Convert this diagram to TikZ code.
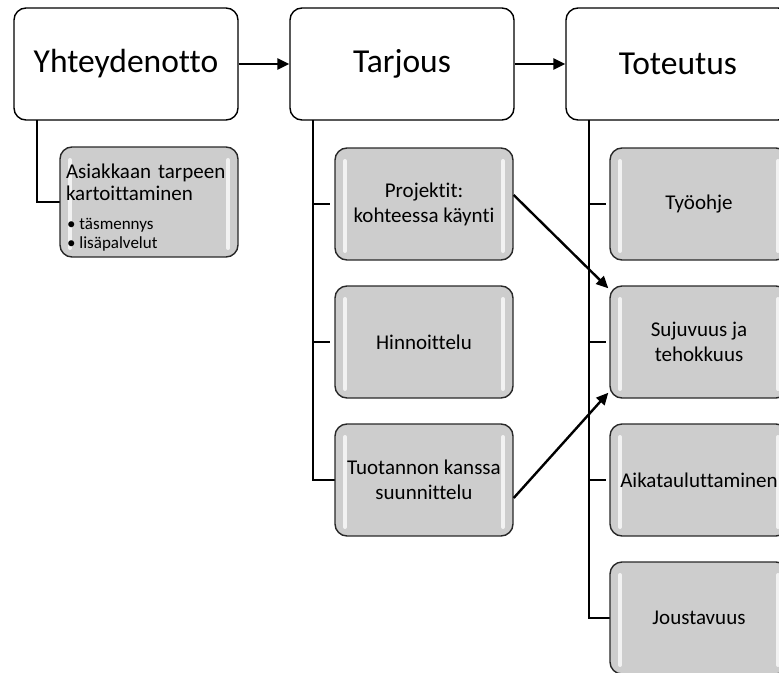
\documentclass[tikz,border=0pt]{standalone}
\usepackage{fontspec}
\setmainfont{Carlito}[Ligatures=NoCommon]
\usetikzlibrary{arrows.meta}
\definecolor{taskgray}{RGB}{205,205,205}
\definecolor{taskedge}{RGB}{40,40,40}
\begin{document}
\begin{tikzpicture}[x=1pt,y=-1pt,
  stage/.style={draw=black, line width=1.4pt, fill=white, rounded corners=12pt,
    minimum width=224pt, minimum height=112pt, inner sep=0pt,
    font=\fontsize{33.5}{38}\selectfont},
  task/.style={draw=taskedge, line width=1.4pt, fill=taskgray, rounded corners=12pt,
    minimum width=178pt, minimum height=112pt, inner sep=0pt, align=center,
    font=\fontsize{21}{25}\selectfont,
    path picture={
      \draw[white, line width=4pt, line cap=round, opacity=0.75]
        ([xshift=10pt,yshift=-13pt]path picture bounding box.north west) --
        ([xshift=10pt,yshift=9pt]path picture bounding box.south west);
      \draw[white, line width=4pt, line cap=round, opacity=0.75]
        ([xshift=-10pt,yshift=-13pt]path picture bounding box.north east) --
        ([xshift=-10pt,yshift=9pt]path picture bounding box.south east);
    }},
  link/.style={line width=2.4pt},
  flow/.style={line width=2.4pt, -{Triangle[length=12pt,width=11pt]}}
]
\clip (0,0) rectangle (779,672);

% main stages
\node[stage] (s1) at (126,64) {Yhteydenotto};
\node[stage] (s2) at (402,64) {Tarjous};
\node[stage] (s3) at (678,64) {Toteutus};

% trunk starting points below each stage
\coordinate (t1) at (37,120);
\coordinate (t2) at (313,120);
\coordinate (t3) at (589,120);

% tree lines
\draw[link] (t1) |- (149,202);
\draw[link] (t2) |- (424,480);
\draw[link] (t3) |- (699,618);
\foreach \yy in {204,342} \draw[link] (313,\yy) -- (330,\yy);
\foreach \yy in {204,342,480} \draw[link] (589,\yy) -- (606,\yy);

% tasks under Yhteydenotto
\node[task, minimum height=110pt, align=left, text width=166pt,
      font=\fontsize{21}{22}\selectfont] (c11) at (149,202)
  {\rule{0pt}{25pt}Asiakkaan tarpeen\\kartoittaminen\\[7pt]
   {\fontsize{17}{20}\selectfont \hspace*{1pt}\textbullet\hspace{4pt}täsmennys}\\[-3pt]
   {\fontsize{17}{20}\selectfont \hspace*{1pt}\textbullet\hspace{4pt}lisäpalvelut}};

% tasks under Tarjous
\node[task] (c21) at (424,204) {Projektit:\\kohteessa käynti};
\node[task] (c22) at (424,342) {Hinnoittelu};
\node[task] (c23) at (424,480) {Tuotannon kanssa\\suunnittelu};

% tasks under Toteutus
\node[task] (c31) at (699,204) {Työohje};
\node[task] (c32) at (699,342) {Sujuvuus ja\\tehokkuus};
\node[task] (c33) at (699,480) {Aikatauluttaminen};
\node[task] (c34) at (699,618) {Joustavuus};

% flow between stages
\draw[flow] (s1.east) -- (s2.west);
\draw[flow] (s2.east) -- (s3.west);

% cross links into Sujuvuus ja tehokkuus
\draw[flow] ([yshift=9pt]c21.east) -- ([xshift=-1pt,yshift=-3pt]c32.north west);
\draw[flow] ([yshift=-18pt]c23.east) -- ([xshift=-1pt,yshift=6pt]c32.south west);
\end{tikzpicture}
\end{document}
